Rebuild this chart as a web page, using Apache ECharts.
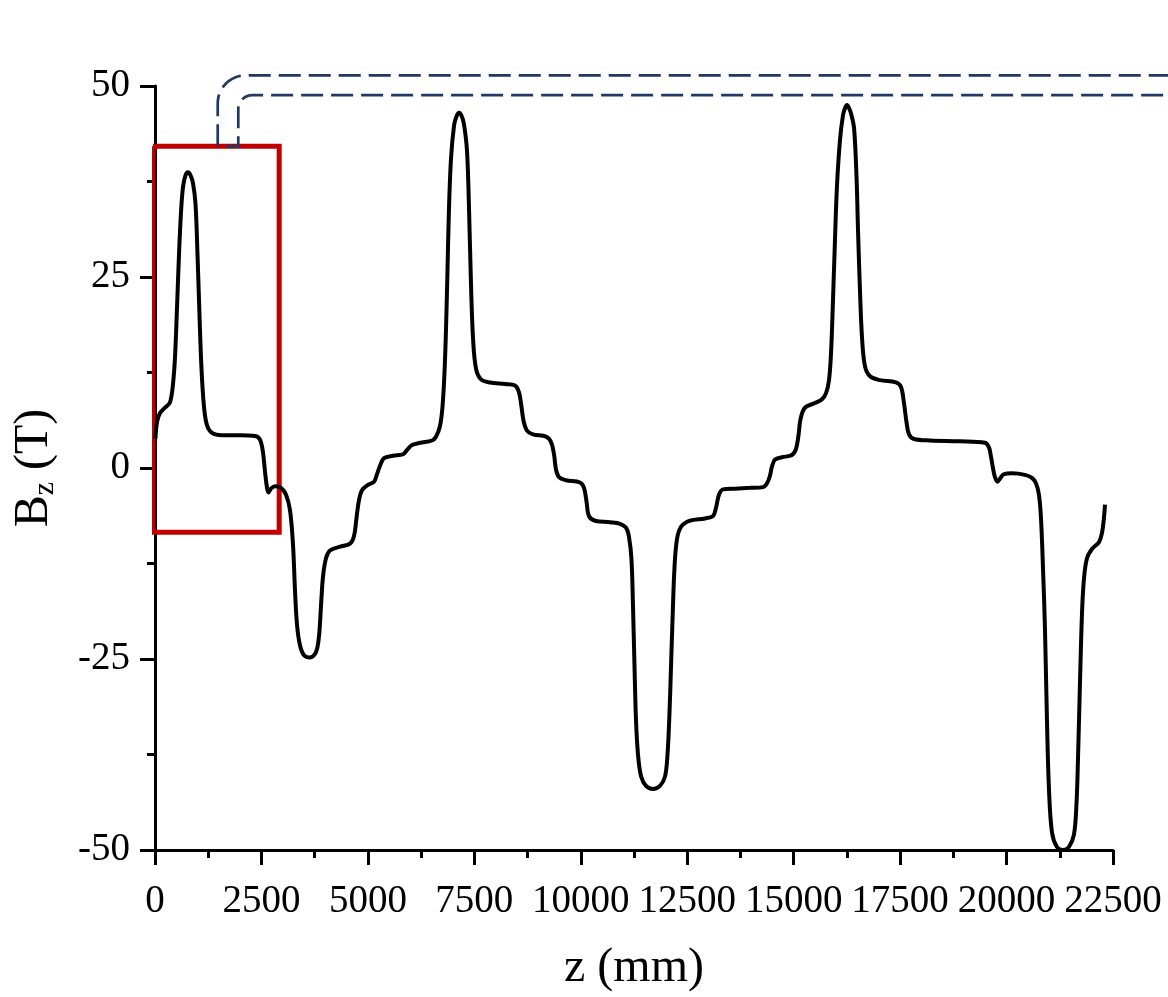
<!DOCTYPE html>
<html lang="en">

<head>
    <meta charset="UTF-8">
    <title>Bz along z</title>
    <script src="https://cdn.jsdelivr.net/npm/echarts@6.0.0/dist/echarts.min.js"></script>
    <style>
        * {
            margin: 0;
            padding: 0
        }

        html,
        body {
            width: 100%;
            height: 100%;
            background: #fff;
        }

        #main {
            width: 1168px;
            height: 997px;
        }
    </style>
</head>

<body>
    <div id="main"></div>
    <script type="text/javascript">
        // z positions (mm)
        var zPos = [
            10, 47, 117, 235, 352, 423, 470, 517, 564, 611, 658, 716, 775, 834, 892, 951, 998, 1045, 1092, 1151, 1221, 1339,
            1574, 1996, 2349, 2466, 2537, 2584, 2631, 2666, 2724, 2818, 2959, 3077, 3170, 3241, 3288, 3335, 3405,
            3499, 3640, 3781, 3852, 3899, 3946, 4016, 4110, 4345, 4580, 4674, 4733, 4791, 4862, 5003, 5144, 5214,
            5285, 5379, 5590, 5825, 5942, 6036, 6224, 6506, 6600, 6694, 6752, 6799, 6834, 6870, 6905, 6952, 7023,
            7080, 7140, 7200, 7257, 7328, 7375, 7422, 7469, 7539, 7657, 7868, 8221, 8455, 8549, 8608, 8655, 8737, 8878, 9183,
            9301, 9371, 9418, 9489, 9653, 9982, 10076, 10135, 10193, 10334, 10686, 10921, 11062, 11132, 11191,
            11226, 11262, 11297, 11344, 11414, 11532, 11696, 11860, 11978, 12037, 12084, 12119, 12154, 12201,
            12260, 12354, 12565, 12918, 13105, 13176, 13246, 13340, 13622, 13974, 14280, 14374, 14444, 14491,
            14562, 14726, 14961, 15055, 15114, 15161, 15266, 15501, 15666, 15760, 15830, 15877, 15924, 15971,
            16018, 16089, 16159, 16205, 16253, 16300, 16347, 16418, 16477, 16512, 16559, 16606, 16676, 16794, 17029, 17403,
            17521, 17591, 17650, 17709, 17826, 18202, 18906, 19493, 19587, 19634, 19681, 19728, 19787, 19845,
            19939, 20127, 20432, 20597, 20691, 20761, 20808, 20855, 20902, 20949, 20996, 21067, 21184, 21325,
            21466, 21583, 21642, 21678, 21725, 21772, 21818, 21889, 22007, 22171, 22241, 22288, 22312
        ];
        // Bz values (T), same order
        var bzVals = [
            3.8, 6.0, 7.2, 7.9, 8.6, 11.0, 14.5, 21, 28, 33.5, 36.8, 38.3, 38.7, 38.3, 37.3, 34.6, 28, 20, 13, 8, 5.6, 4.6,
            4.3, 4.3, 4.2, 3.7, 2.0, -0.5, -2.6, -3.2, -2.7, -2.4, -2.6, -3.5, -5.5, -10, -16, -20.5, -23.2,
            -24.5, -24.8, -24.1, -22, -18, -14.2, -11.8, -10.8, -10.3, -9.9, -8.9, -6.5, -4.2, -2.9, -2.2, -1.8, -0.8,
            0.3, 1.3, 1.6, 1.8, 2.5, 3.0, 3.3, 3.6, 4.1, 5.5, 8.0, 12.5, 18, 26, 34, 40.5, 44.8,
            46.0, 46.5, 46.1, 45.0, 41.5, 34, 24, 17, 13, 11.6, 11.2, 11.0, 10.8, 9.9, 8, 6.2, 4.9, 4.4, 4.1,
            3.4, 1.8, -0.2, -1.2, -1.6, -1.9, -2.6, -4.4, -6.3, -6.9, -7.1, -7.3, -7.8, -9.0, -12,
            -18, -26, -33, -37.5, -40.3, -41.6, -42.0, -41.6, -40.4, -37.5, -32, -26, -20, -13,
            -9.3, -7.7, -6.9, -6.6, -6.3, -5.2, -3.5, -2.8, -2.7, -2.6, -2.5, -2.0, -1.0, 0.2,
            1.1, 1.4, 1.7, 2.5, 4.3, 6.4, 7.9, 8.5, 9.0, 9.8, 11.5, 15, 22, 30,
            37, 43, 46.2, 47.1, 47.5, 47.1, 46.4, 44.5, 38, 31, 23, 17, 13.3, 12.0, 11.5, 11.2,
            10.6, 8.5, 6, 4.4, 3.8, 3.6, 3.5, 3.3, 2.7, 1.5, 0, -1.2, -1.8, -1.4,
            -0.8, -0.7, -0.9, -1.3, -2.0, -3.5, -6.5, -13, -21, -33, -42, -47.7, -49.6, -50.0,
            -49.6, -48.0, -44, -38, -28, -19, -14.5, -11.8, -10.6, -9.7, -8.5, -6.5, -4.8
        ];
        // highlight box corners (z, Bz) and connector anchors
        var boxZ = [-47, 2917];
        var boxB = [-8.4, 42.1];
        var connZ = [1473, 1956];
        var connB = [51.4, 48.8];

        var font = "'Liberation Serif', 'Times New Roman', serif";
        var curve = zPos.map(function (z, i) { return [z, bzVals[i]]; });
        var box = [
            [boxZ[0], boxB[1]], [boxZ[1], boxB[1]], [boxZ[1], boxB[0]],
            [boxZ[0], boxB[0]], [boxZ[0], boxB[1]]
        ];

        var myChart = echarts.init(document.getElementById('main'));
        var axisCommon = {
            axisLine: { onZero: false, lineStyle: { color: '#000', width: 3 } },
            axisTick: { inside: false, length: 15, lineStyle: { color: '#000', width: 3 } },
            minorTick: { show: true, splitNumber: 2, length: 8, lineStyle: { color: '#000', width: 3 } },
            splitLine: { show: false }
        };
        var option = {
            backgroundColor: '#fff',
            animation: false,
            grid: { left: 155, right: 55, top: 86, bottom: 141 },
            xAxis: Object.assign({
                type: 'value',
                min: 0, max: 22500, interval: 2500,
                name: 'z (mm)',
                nameLocation: 'middle',
                nameGap: 94,
                nameTextStyle: { fontFamily: font, fontSize: 48, color: '#000' },
                axisLabel: {
                    fontFamily: font, fontSize: 39, color: '#000', margin: 32,
                    formatter: function (v) { return String(v); }
                }
            }, axisCommon),
            yAxis: Object.assign({
                type: 'value',
                min: -50, max: 50, interval: 25,
                name: '{b|B}{s|z}{b| (T)}',
                nameLocation: 'middle',
                nameGap: 95,
                nameTextStyle: {
                    color: '#000',
                    rich: {
                        b: { fontFamily: font, fontSize: 48, lineHeight: 52, color: '#000' },
                        s: { fontFamily: font, fontSize: 30, lineHeight: 30, verticalAlign: 'bottom', color: '#000' }
                    }
                },
                axisLabel: { fontFamily: font, fontSize: 39, color: '#000', margin: 25 }
            }, axisCommon),
            series: [
                {
                    name: 'box',
                    type: 'line',
                    data: box,
                    clip: false,
                    showSymbol: false,
                    z: 1,
                    lineStyle: { color: '#c00000', width: 5, join: 'miter' },
                    silent: true
                },
                {
                    name: 'Bz',
                    type: 'line',
                    data: curve,
                    showSymbol: false,
                    smooth: 0.35,
                    clip: false,
                    z: 3,
                    lineStyle: { color: '#000', width: 4 }
                }
            ]
        };
        myChart.setOption(option);

        // dashed connectors from the top of the box to the right edge
        var W = myChart.getWidth();
        var pOut = myChart.convertToPixel({ gridIndex: 0 }, [connZ[0], connB[0]]);
        var pIn = myChart.convertToPixel({ gridIndex: 0 }, [connZ[1], connB[1]]);
        var yTop = myChart.convertToPixel({ gridIndex: 0 }, [0, boxB[1]])[1];

        function connector(x, yBase, yH, r, lead) {
            var pts = [];
            if (lead) pts.push([x - lead, yBase]);
            pts.push([x, yBase]);
            for (var i = 0; i <= 12; i++) {
                var t = i / 12 * Math.PI / 2;
                pts.push([x + r - r * Math.cos(t), yH + r - r * Math.sin(t)]);
            }
            pts.push([W, yH]);
            return pts;
        }

        var dashStyle = { fill: null, stroke: '#1f3864', lineWidth: 2.7, lineDash: [22, 8] };
        myChart.setOption({
            graphic: [
                {
                    type: 'polyline', z: 10, silent: true,
                    shape: { points: connector(pOut[0], yTop, pOut[1], 28, 0) },
                    style: dashStyle
                },
                {
                    type: 'polyline', z: 10, silent: true,
                    shape: { points: connector(pIn[0], yTop, pIn[1], 14, 12) },
                    style: dashStyle
                }
            ]
        });
    </script>
</body>

</html>
